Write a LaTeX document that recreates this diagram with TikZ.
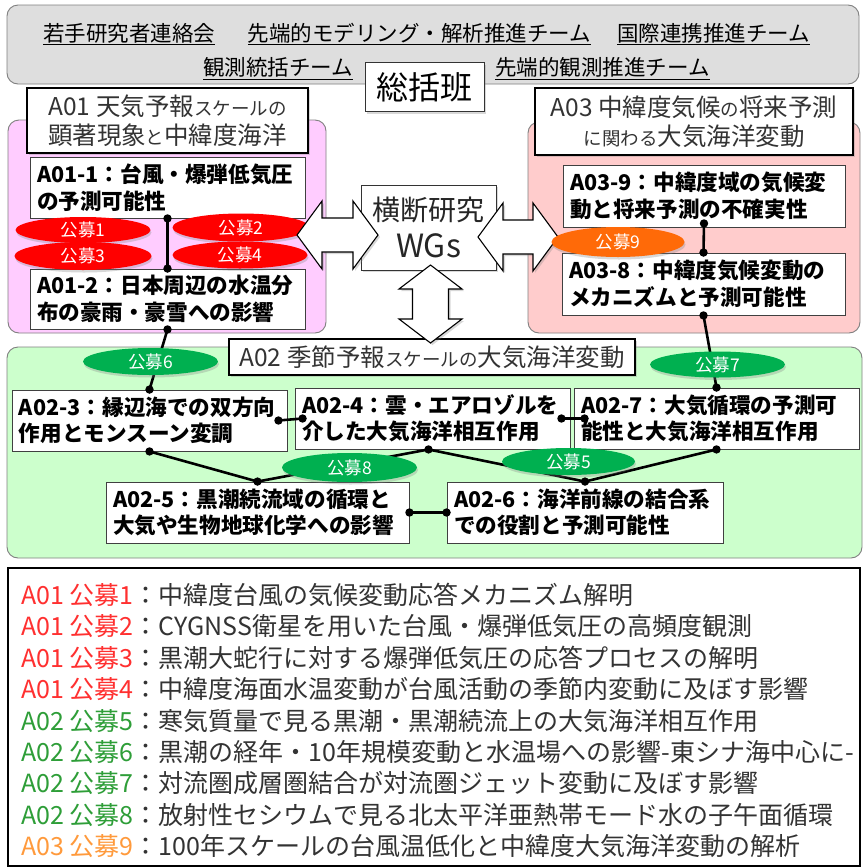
\documentclass[tikz,border=0pt]{standalone}
\usepackage{fontspec}
\setmainfont{Noto Sans CJK JP}
\usetikzlibrary{shapes.geometric,shadows,calc}
\definecolor{hqgray}{HTML}{DEDEDE}
\definecolor{aonefill}{HTML}{FFCCFF}
\definecolor{athreefill}{HTML}{FFCCCC}
\definecolor{atwofill}{HTML}{CCFFCC}
\definecolor{kbred}{HTML}{FF0000}
\definecolor{kbgreen}{HTML}{00B050}
\definecolor{kborange}{HTML}{FF6A08}
\definecolor{legred}{HTML}{FF3030}
\definecolor{leggreen}{HTML}{2E9E38}
\definecolor{legorange}{HTML}{FF9A3C}
\newcommand\smtxt[1]{{\fontsize{18.5}{20}\selectfont #1}}
\newcommand\tl[2]{\mbox{#1}\\\mbox{#2}}
\begin{document}
\begin{tikzpicture}[x=1pt,y=-1pt,
  grp/.style={draw=black!50, line width=0.9pt, rounded corners=11pt, inner sep=0pt},
  ttl/.style={draw=black, line width=2.2pt, fill=white, inner sep=0pt, align=center, text=black!80,
    font=\fontsize{24.5}{29}\selectfont, drop shadow={opacity=0.3,shadow xshift=2pt,shadow yshift=-2pt}},
  task/.style={draw=black!75, line width=0.9pt, fill=white, align=left, inner xsep=7pt, inner ysep=0pt,
    font=\bfseries\fontsize{21.6}{26.5}\selectfont},
  kb/.style={ellipse, text=white, inner sep=0pt, font=\fontsize{17.5}{18}\selectfont,
    drop shadow={opacity=0.3, shadow xshift=1pt, shadow yshift=-2.5pt}},
  conn/.style={line width=2.6pt, black},
  topt/.style={anchor=base, font=\fontsize{21.5}{22}\selectfont, inner sep=0pt},
  leg/.style={anchor=base west, font=\fontsize{25}{26}\selectfont, inner sep=0pt, text=black!80},
  darrow/.style={fill=white, draw=black, line width=1.1pt, line join=miter,
    drop shadow={opacity=0.3, shadow xshift=2pt, shadow yshift=-2pt}},
  plainbox/.style={draw=black!80, line width=1pt, fill=white, inner sep=0pt, align=center,
    drop shadow={opacity=0.3, shadow xshift=2pt, shadow yshift=-2pt}}
]
\useasboundingbox (0,0) rectangle (865,868);
\fill[white] (0,0) rectangle (865,868);

% top panel
\node[grp, fill=hqgray, minimum width=852pt, minimum height=79pt] (top) at (433,44.5) {};
\node[topt] (t1) at (129,41) {\underline{若手研究者連絡会}};
\node[topt] (t2) at (419.5,41) {\underline{先端的モデリング・解析推進チーム}};
\node[topt] (t3) at (713.5,41) {\underline{国際連携推進チーム}};
\node[topt] (t4) at (278,75.5) {\underline{観測統括チーム}};
\node[topt] (t5) at (602.5,75.5) {\underline{先端的観測推進チーム}};
\node[plainbox, minimum width=119pt, minimum height=49pt, font=\fontsize{32}{34}\selectfont] (hq) at (424.5,87) {総括班};

% group regions
\node[grp, fill=aonefill, minimum width=318pt, minimum height=213pt] (r01) at (167,226.5) {};
\node[grp, fill=athreefill, minimum width=332pt, minimum height=211pt] (r03) at (694,227.5) {};
\node[grp, fill=atwofill, minimum width=855pt, minimum height=211pt] (r02) at (434.5,452.5) {};

% titles
\node[ttl, minimum width=281pt, minimum height=65pt] (g01) at (167.5,120.5) {A01 天気予報\smtxt{スケールの}\\顕著現象\smtxt{と}中緯度海洋};
\node[ttl, minimum width=318pt, minimum height=67pt] (g03) at (694,121.5) {A03 中緯度気候\smtxt{の}将来予測\\\smtxt{に関わる}大気海洋変動};
\node[ttl, minimum width=406pt, minimum height=36pt] (g02) at (432,357) {A02 季節予報\smtxt{スケールの}大気海洋変動};

% task boxes
\node[task, text width=261pt, minimum height=61pt] (a11) at (167.5,187.5) {\tl{A01-1：台風・爆弾低気圧}{の予測可能性}};
\node[task, text width=261pt, minimum height=60pt] (a12) at (167.5,299) {\tl{A01-2：日本周辺の水温分}{布の豪雨・豪雪への影響}};
\node[task, text width=268pt, minimum height=62pt] (a39) at (704,196) {\tl{A03-9：中緯度域の気候変}{動と将来予測の不確実性}};
\node[task, text width=269pt, minimum height=62pt] (a38) at (703.5,284) {\tl{A03-8：中緯度気候変動の}{メカニズムと予測可能性}};
\node[task, text width=261pt, minimum height=61pt] (a23) at (149.5,420.5) {\tl{A02-3：縁辺海での双方向}{作用とモンスーン変調}};
\node[task, text width=261pt, minimum height=61pt] (a24) at (432.5,418.5) {\tl{A02-4：雲・エアロゾルを}{介した大気海洋相互作用}};
\node[task, text width=271pt, minimum height=61pt] (a27) at (716.5,418.5) {\tl{A02-7：大気循環の予測可}{能性と大気海洋相互作用}};
\node[task, text width=289pt, minimum height=61pt] (a25) at (257.5,512.5) {\tl{A02-5：黒潮続流域の循環と}{大気や生物地球化学への影響}};
\node[task, text width=262pt, minimum height=61pt] (a26) at (585,512.5) {\tl{A02-6：海洋前線の結合系}{での役割と予測可能性}};

% WGs
\node[plainbox, minimum width=135pt, minimum height=85pt, font=\fontsize{28}{37}\selectfont, text=black!85] (wg) at (428.5,227.5) {横断研究\\{\fontsize{32}{37}\selectfont WGs}};

% ports
\coordinate (p24s) at ([xshift=-4pt]a24.south);
\coordinate (p23e) at ([xshift=-9pt]a23.east);
\coordinate (p24w) at ([xshift=8pt]a24.west);
\coordinate (p24e) at ([xshift=-9pt]a24.east);
\coordinate (p27w) at ([xshift=11pt]a27.west);
\coordinate (p39s) at ([yshift=4pt]a39.south);

% connectors
\draw[conn] (a11.south) -- (a12.north);
\draw[conn] (a12.south) -- (a23.north);
\draw[conn] (p39s) -- (a38.north);
\draw[conn] (a38.south) -- (a27.north);
\draw[conn] (p23e) -- (p24w);
\draw[conn] (p24e) -- (p27w);
\draw[conn] (a23.south) -- (a25.north) -- (p24s) -- (a26.north) -- (a27.south);
\draw[conn] (a25.east) -- (a26.west);
\foreach \p in {a11.south,a12.north,a12.south,a23.north,p39s,a38.north,a38.south,a27.north,p23e,p24w,p24e,p27w,a23.south,a25.north,p24s,a26.north,a27.south,a25.east,a26.west}
  \fill (\p) circle (4.2pt);

% koubo ellipses
\node[kb, fill=kbred, minimum width=135pt, minimum height=26pt] (k1) at (83,230) {公募1};
\node[kb, fill=kbred, minimum width=137pt, minimum height=28pt] (k2) at (241,227.5) {公募2};
\node[kb, fill=kbred, minimum width=137pt, minimum height=28pt] (k3) at (83,256) {公募3};
\node[kb, fill=kbred, minimum width=135pt, minimum height=27pt] (k4) at (240,255) {公募4};
\node[kb, fill=kbgreen, minimum width=135pt, minimum height=27pt] (k6) at (150.5,361.5) {公募6};
\node[kb, fill=kbgreen, minimum width=135pt, minimum height=26pt] (k7) at (717.5,364.5) {公募7};
\node[kb, fill=kbgreen, minimum width=135pt, minimum height=29pt] (k8) at (349.5,467.5) {公募8};
\node[kb, fill=kbgreen, minimum width=133pt, minimum height=27pt] (k5) at (568.5,461.5) {公募5};

% double arrows
\filldraw[darrow] (297,235) -- (322,201) -- (322,218) -- (353,218) -- (353,201) -- (378,235) -- (353,269) -- (353,252) -- (322,252) -- (322,269) -- cycle;
\filldraw[darrow] (478,237) -- (503,203) -- (503,220) -- (533,220) -- (533,203) -- (558,237) -- (533,271) -- (533,254) -- (503,254) -- (503,271) -- cycle;
\filldraw[darrow] (430.5,265) -- (462,289) -- (448.5,289) -- (448.5,319) -- (462,319) -- (430.5,343) -- (399,319) -- (412.5,319) -- (412.5,289) -- (399,289) -- cycle;

\node[kb, fill=kborange, minimum width=133pt, minimum height=30pt] (k9) at (618,242) {公募9};

% legend
\node[draw=black, line width=1.6pt, minimum width=852pt, minimum height=298pt, inner sep=0pt] (legend) at (434,717) {};
\node[leg] (l1) at (21,604.5) {\textcolor{legred}{A01 公募1}：中緯度台風の気候変動応答メカニズム解明};
\node[leg] (l2) at (21,635.9) {\textcolor{legred}{A01 公募2}：CYGNSS衛星を用いた台風・爆弾低気圧の高頻度観測};
\node[leg] (l3) at (21,667.3) {\textcolor{legred}{A01 公募3}：黒潮大蛇行に対する爆弾低気圧の応答プロセスの解明};
\node[leg] (l4) at (21,698.7) {\textcolor{legred}{A01 公募4}：中緯度海面水温変動が台風活動の季節内変動に及ぼす影響};
\node[leg] (l5) at (21,730.1) {\textcolor{leggreen}{A02 公募5}：寒気質量で見る黒潮・黒潮続流上の大気海洋相互作用};
\node[leg] (l6) at (21,761.5) {\textcolor{leggreen}{A02 公募6}：黒潮の経年・10年規模変動と水温場への影響-東シナ海中心に-};
\node[leg] (l7) at (21,792.9) {\textcolor{leggreen}{A02 公募7}：対流圏成層圏結合が対流圏ジェット変動に及ぼす影響};
\node[leg] (l8) at (21,824.3) {\textcolor{leggreen}{A02 公募8}：放射性セシウムで見る北太平洋亜熱帯モード水の子午面循環};
\node[leg] (l9) at (21,855.7) {\textcolor{legorange}{A03 公募9}：100年スケールの台風温低化と中緯度大気海洋変動の解析};
\end{tikzpicture}
\end{document}
